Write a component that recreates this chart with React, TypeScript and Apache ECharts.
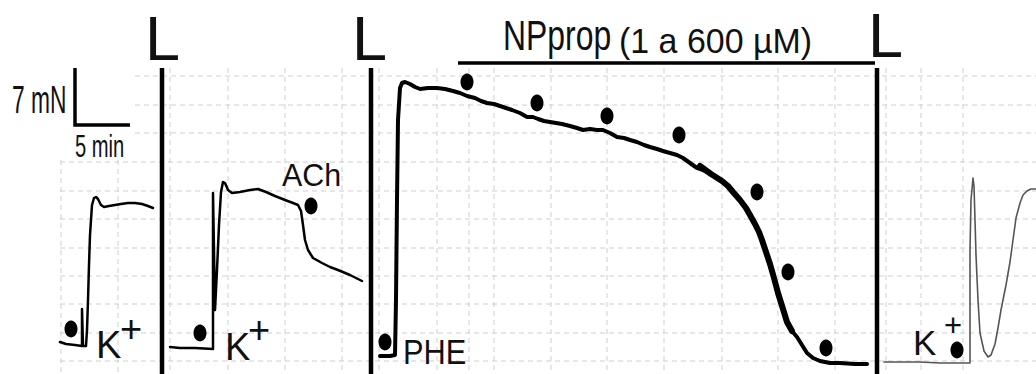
import React, { useEffect, useRef } from "react";
import * as echarts from "echarts";

// Coordinates: x = time position, y = tension position (top = 0).
const X_MAX = 1036;
const Y_MAX = 374;

// Dashed background grid
const hGridY = [76, 105, 133, 162, 191, 219, 248, 276, 304, 333, 361];
const hGridStartTop = 135; // first three lines start here (scale-bar area is blank)
const hGridStartLow = 60;
const vGridX = [61, 118, 170, 228, 285, 342, 379, 437, 469, 494, 551, 607, 664, 722, 778, 835, 886, 921, 963];
const vGridStartLeft = 160;
const vGridStartOther = 68;

// Wash separators (thick vertical bars)
const separatorX = [162, 371, 877];

// Trace 1: K+ response
const traceK1: [number, number][] = [
  [60, 342], [66, 344], [75, 345], [82, 346], [82, 309], [83, 346], [86, 346],
  [87, 330], [88, 300], [89, 265], [90, 235], [92, 205], [94, 198], [96, 197],
  [98, 199], [101, 205], [104, 207], [109, 206], [115, 205], [121, 204], [128, 203],
  [135, 203], [142, 204], [148, 206], [153, 208],
];

// Trace 2: K+ then ACh relaxation
const traceK2ACh: [number, number][] = [
  [170, 347], [180, 348], [195, 348], [213, 349], [213, 193], [215, 310],
  [217, 270], [219, 225], [221, 192], [223, 182], [225, 183], [228, 190],
  [232, 193], [240, 192], [250, 190], [258, 189], [266, 192], [275, 196],
  [285, 200], [293, 203], [298, 205], [301, 211], [303, 225], [305, 240],
  [308, 250], [313, 258], [322, 263], [330, 267], [338, 270], [350, 275], [362, 281],
];

// Trace 3: PHE contraction and NPprop cumulative relaxation
const tracePheNP: [number, number][] = [
  [380, 356], [390, 356], [395, 355], [396, 300], [397, 200], [398, 120],
  [400, 88], [402, 83], [405, 82], [410, 84], [415, 87], [420, 89], [428, 88],
  [437, 88], [445, 89], [453, 91], [460, 93], [467, 96], [475, 98], [481, 101],
  [487, 103], [494, 104], [500, 106], [506, 108], [512, 110], [520, 113],
  [527, 117], [533, 117], [538, 119], [544, 121], [550, 122], [556, 123],
  [562, 124], [570, 126], [577, 128], [583, 130], [590, 129], [597, 130],
  [603, 130], [610, 133], [617, 137], [624, 138], [630, 140], [637, 142],
  [644, 145], [650, 147], [657, 149], [663, 151], [670, 153], [677, 155],
  [683, 158], [690, 163], [697, 168], [705, 171], [711, 174], [717, 177],
  [725, 183], [733, 192], [740, 200], [746, 208], [750, 215], [755, 224],
  [759, 232], [762, 240], [766, 252], [770, 264], [774, 278], [778, 293],
  [783, 309], [787, 322], [792, 331], [797, 337], [802, 345], [807, 353],
  [813, 358], [820, 361], [830, 363], [840, 363], [855, 364], [867, 364],
];
// Noisier (thicker) stretch of trace 3
const tracePheNPNoisy: [number, number][] = [
  [700, 166], [711, 174], [722, 181], [728, 186], [733, 192], [740, 200],
  [746, 208], [750, 215], [755, 224], [759, 232], [762, 240], [766, 252],
  [770, 264], [774, 278], [778, 293], [783, 309], [787, 322], [792, 331],
];

// Trace 4: final K+ response
const traceK3: [number, number][] = [
  [884, 362], [900, 362], [920, 362], [940, 363], [955, 363], [970, 363],
  [970, 250], [971, 200], [973, 178], [974, 186], [975, 220], [976, 255],
  [978, 300], [980, 333], [984, 351], [988, 357], [991, 355], [995, 344],
  [998, 328], [1001, 310], [1006, 285], [1010, 262], [1013, 240], [1016, 218],
  [1020, 203], [1023, 195], [1027, 191], [1031, 189], [1036, 189],
];

// Drug-addition dots
const additionDots: [number, number][] = [
  [71, 329], [200, 333], [311, 206], [385, 342],
  [467, 82], [537, 103], [607, 116], [679, 135],
  [757, 192], [788, 272], [826, 348], [957, 350],
];

// Scale bar (7 mN vertical, 5 min horizontal) and NPprop bar
const scaleBar: [number, number][] = [[75, 68], [75, 125], [130, 125]];
const npBar: [number, number][] = [[458, 63], [875, 63]];

const FONT = '"Liberation Sans", Arial, Helvetica, sans-serif';

function txt(text: string, x: number, y: number, size: number, scaleX = 1) {
  return {
    type: "text",
    x,
    y,
    scaleX,
    silent: true,
    z: 100,
    style: {
      text,
      x: 0,
      y: 0,
      font: `normal ${size}px ${FONT}`,
      fill: "#111",
      align: "left",
      verticalAlign: "middle",
      textAlign: "left",
      textVerticalAlign: "middle",
    },
  };
}

export default function App() {
  const ref = useRef<HTMLDivElement>(null);

  useEffect(() => {
    document.body.style.margin = "0";
    if (!ref.current) return;
    const chart = echarts.init(ref.current, undefined, { renderer: "svg" });

    const gridLines: any[] = [];
    hGridY.forEach((y, i) => {
      gridLines.push({ coords: [[i < 3 ? hGridStartTop : hGridStartLow, y], [X_MAX, y]] });
    });
    vGridX.forEach((x, i) => {
      gridLines.push({ coords: [[x, i < 2 ? vGridStartLeft : vGridStartOther], [x, Y_MAX]] });
    });

    const traceSeries = (data: [number, number][], width: number, color = "#000", z = 5) => ({
      type: "line",
      data,
      showSymbol: false,
      symbol: "none",
      silent: true,
      z,
      lineStyle: { color, width, join: "round", cap: "round", opacity: 1 },
    });

    chart.setOption({
      animation: false,
      backgroundColor: "#fff",
      grid: { left: 0, right: 0, top: 0, bottom: 0, containLabel: false },
      xAxis: { type: "value", min: 0, max: X_MAX, show: false },
      yAxis: { type: "value", min: 0, max: Y_MAX, inverse: true, show: false },
      series: [
        {
          type: "lines",
          coordinateSystem: "cartesian2d",
          polyline: true,
          silent: true,
          z: 1,
          lineStyle: { color: "#cfcfcf", width: 1, type: [5, 4], opacity: 1 },
          data: gridLines,
        },
        {
          type: "lines",
          coordinateSystem: "cartesian2d",
          polyline: true,
          silent: true,
          z: 3,
          lineStyle: { color: "#000", width: 4.5, opacity: 1 },
          data: separatorX.map((x) => ({ coords: [[x, 68], [x, Y_MAX]] })),
        },
        {
          type: "lines",
          coordinateSystem: "cartesian2d",
          polyline: true,
          silent: true,
          z: 3,
          lineStyle: { color: "#000", width: 3.5, opacity: 1, join: "miter" },
          data: [{ coords: scaleBar }, { coords: npBar }],
        },
        traceSeries(traceK1, 2.5),
        traceSeries(traceK2ACh, 2.5),
        traceSeries(tracePheNP, 4),
        traceSeries(tracePheNPNoisy, 6),
        traceSeries(traceK3, 1.6, "#555"),
        {
          type: "scatter",
          data: additionDots,
          symbol: "circle",
          symbolSize: [13, 17],
          silent: true,
          z: 10,
          itemStyle: { color: "#000", opacity: 1 },
        },
      ],
      graphic: [
        txt("L", 145, 38, 63),
        txt("L", 352, 38, 63),
        txt("L", 868, 35, 63),
        txt("7 mN", 12, 100, 38, 0.6),
        txt("5 min", 75, 146, 32, 0.63),
        txt("NPprop", 503, 35, 42, 0.76),
        txt("(1 a 600 µM)", 619, 41, 35, 0.97),
        txt("ACh", 282, 175, 32, 0.95),
        txt("PHE", 403, 352, 35, 0.88),
        txt("K", 96, 345, 38),
        txt("+", 120, 329, 38),
        txt("K", 225, 347, 38),
        txt("+", 248, 330, 38),
        txt("K", 913, 342, 35),
        txt("+", 944, 325, 31),
      ],
    });

    return () => chart.dispose();
  }, []);

  return <div ref={ref} style={{ width: 1036, height: 374 }} />;
}
